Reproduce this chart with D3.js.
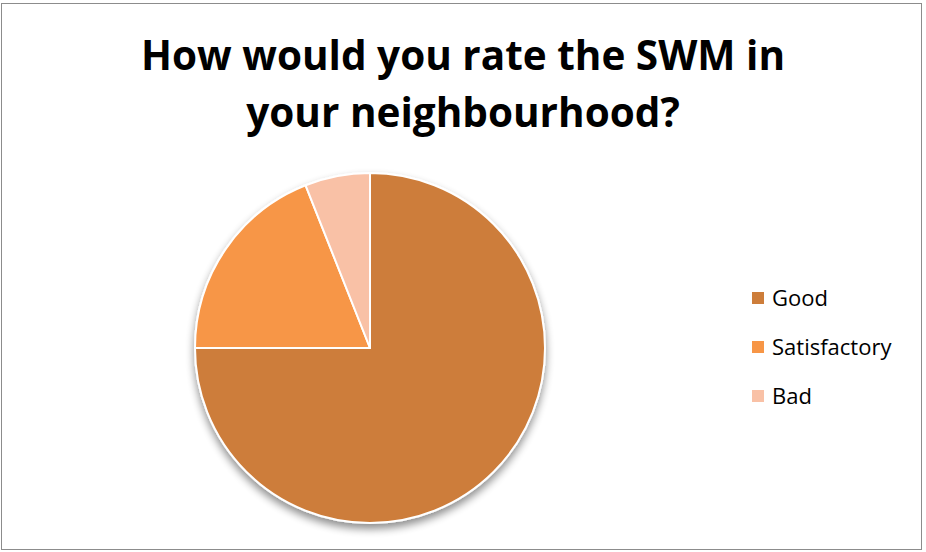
<!DOCTYPE html>
<html><head><meta charset="utf-8">
<script src="https://cdn.jsdelivr.net/npm/d3@7"></script>
<style>body{margin:0;background:#fff}svg{display:block}</style>
</head><body>
<script>
const categories = ["Good", "Satisfactory", "Bad"];
const values = [75, 19, 6];
const colors = ["#CD7D3A", "#F79646", "#F9C1A6"];
const titleLines = ["How would you rate the SWM in", "your neighbourhood?"];

const W = 926, H = 552;
const svg = d3.select("body").append("svg").attr("width", W).attr("height", H);
const defs = svg.append("defs");
const f = defs.append("filter").attr("id", "sh").attr("x", "-20%").attr("y", "-20%").attr("width", "140%").attr("height", "150%");
f.append("feGaussianBlur").attr("in", "SourceAlpha").attr("stdDeviation", 4).attr("result", "b");
f.append("feOffset").attr("in", "b").attr("dy", 5).attr("result", "o");
f.append("feComponentTransfer").attr("in","o").attr("result","o2").append("feFuncA").attr("type","linear").attr("slope",0.45);
const m = f.append("feMerge"); m.append("feMergeNode").attr("in", "o2"); m.append("feMergeNode").attr("in", "SourceGraphic");

svg.append("rect").attr("x", 1.5).attr("y", 3.5).attr("width", 920).attr("height", 546)
  .attr("fill", "#fff").attr("stroke", "#8c8c8c").attr("stroke-width", 1);

const title = svg.append("text").attr("text-anchor", "middle")
  .attr("font-family", "Open Sans, Lato, sans-serif").attr("font-weight", "bold")
  .attr("font-size", 40.5).attr("fill", "#000");
titleLines.forEach((t, i) => title.append("tspan").attr("x", 463).attr("y", 70 + i * 57).text(t));

const cx = 370, cy = 348, r = 175;
const pie = d3.pie().sort(null).value(d => d)(values);
const arc = d3.arc().innerRadius(0).outerRadius(r);
const g = svg.append("g").attr("transform", `translate(${cx},${cy})`).attr("filter", "url(#sh)");
g.selectAll("path").data(pie).join("path")
  .attr("d", arc).attr("fill", (d, i) => colors[i])
  .attr("stroke", "#fff").attr("stroke-width", 2).attr("stroke-linejoin", "round");

const lg = svg.append("g");
categories.forEach((c, i) => {
  const y = 298 + i * 49;
  lg.append("rect").attr("x", 752).attr("y", y - 6).attr("width", 12).attr("height", 12).attr("fill", colors[i]);
  lg.append("text").attr("x", 772).attr("y", y + 8).attr("font-family", "Open Sans, Lato, sans-serif")
    .attr("font-size", 22).attr("fill", "#000").text(c);
});
</script>
</body></html>
